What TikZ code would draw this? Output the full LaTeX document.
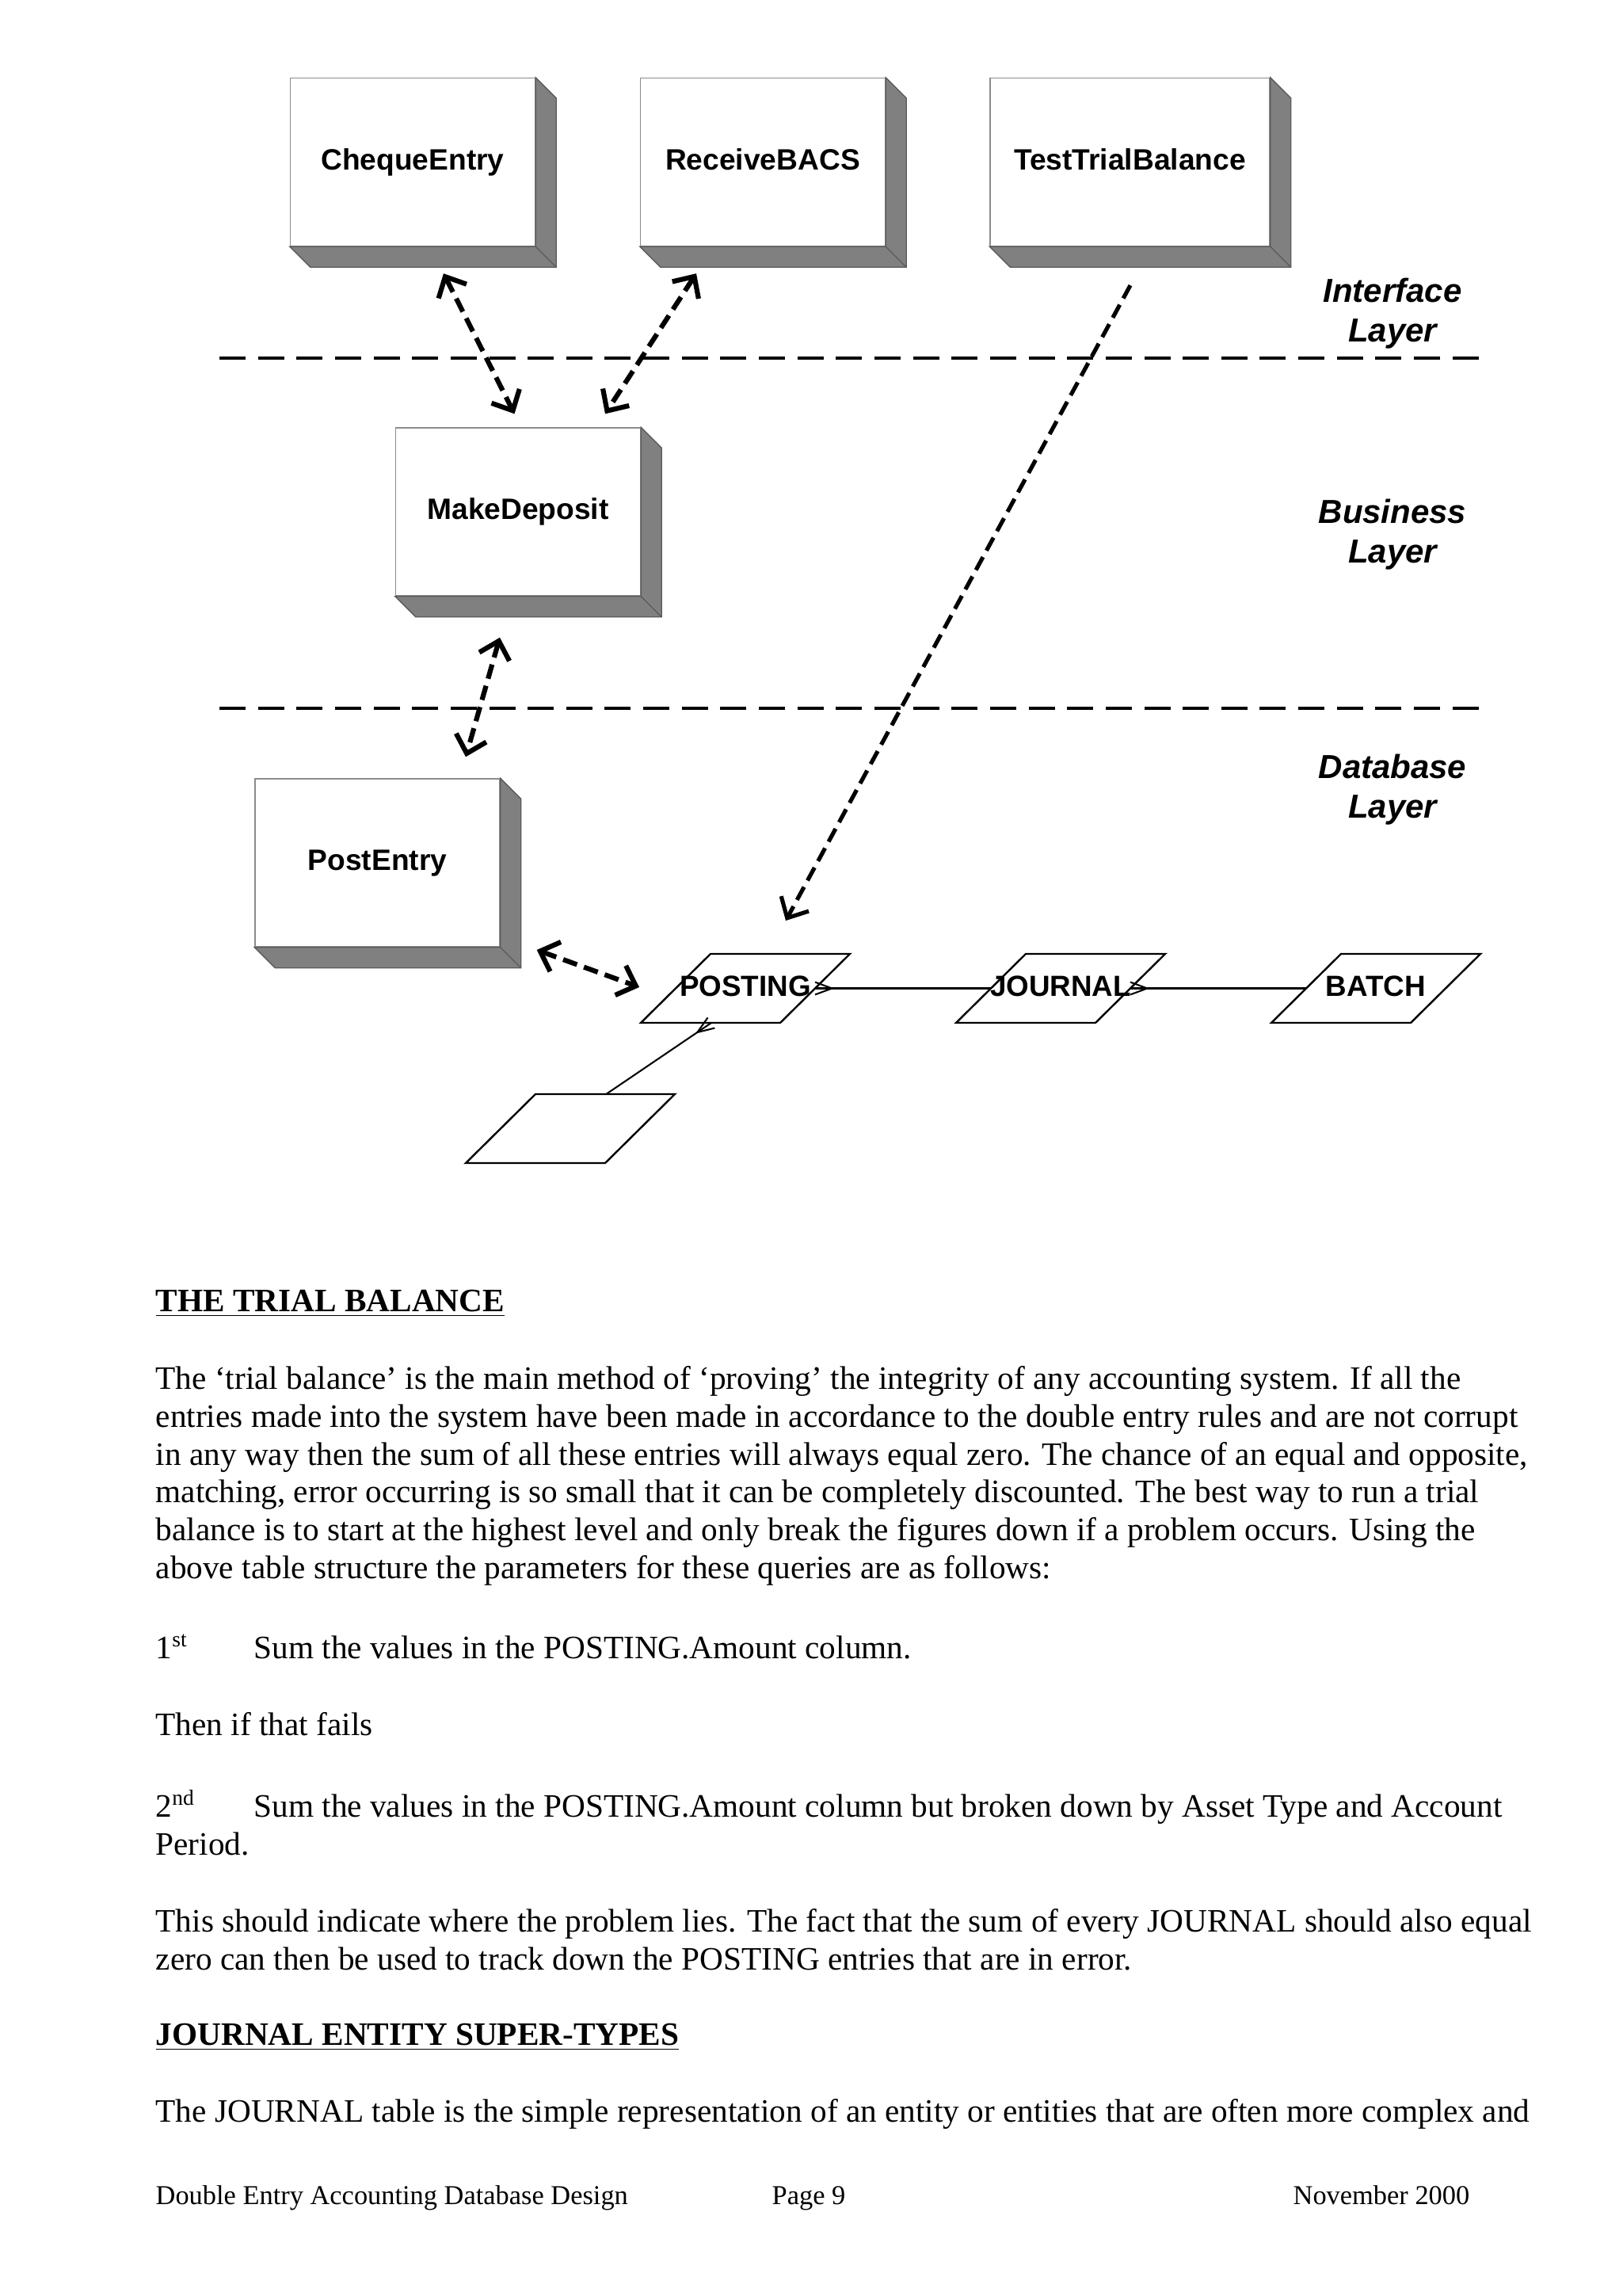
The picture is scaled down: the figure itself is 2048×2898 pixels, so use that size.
\documentclass[tikz,border=0pt]{standalone}
\usepackage{fontspec}
\setmainfont{Liberation Serif}
\newfontfamily\arialfont{Liberation Sans}
\usetikzlibrary{arrows.meta,calc}
\definecolor{shadegray}{RGB}{128,128,128}
\definecolor{edgegray}{RGB}{90,90,90}
\definecolor{facegray}{RGB}{140,140,140}

\newcommand\boxshade[1]{%
  \filldraw[boxshade] (#1.north east) -- ++(26,26) -- ([shift={(26,26)}]#1.south east)
    -- ([shift={(26,26)}]#1.south west) -- (#1.south west) -- (#1.south east) -- cycle;
  \draw[shadeedge] (#1.south east) -- ++(26,26);}

\newcommand\entity[4]{%
  \draw[entityedge] ({#2-44},{#3-43.5}) -- ({#2+132},{#3-43.5}) -- ({#2+44},{#3+43.5}) -- ({#2-132},{#3+43.5}) -- cycle;
  \node[entitytext] (#1) at (#2,#3) {#4};
  \coordinate (#1-r) at ({#2+88},#3);
  \coordinate (#1-l) at ({#2-88},#3);}

% relationship line from #2 (one end) to #1 (many end), crow's foot at #1
\newcommand\crowfoot[2]{%
  \draw[rel] (#2) -- (#1);
  \draw[rel] ($(#1)!2.3pt!90:(#2)$) -- ($(#1)!6.2pt!(#2)$) -- ($(#1)!2.3pt!-90:(#2)$);}

\begin{document}
\begin{tikzpicture}[x=0.29067pt, y=-0.29067pt,
  comp/.style={rectangle, draw=facegray, line width=0.4pt, fill=white, inner sep=0pt,
    minimum width=309*0.29067pt, minimum height=212*0.29067pt,
    font=\arialfont\bfseries\fontsize{10.8}{13}\selectfont, text height=7.9pt, text depth=2.3pt},
  boxshade/.style={fill=shadegray, draw=edgegray, line width=0.4pt},
  shadeedge/.style={draw=edgegray, line width=0.4pt},
  layer/.style={font=\arialfont\bfseries\itshape\fontsize{12.2}{14.5}\selectfont, align=center, inner sep=0pt},
  sepline/.style={line width=1pt, dash pattern=on 9.59pt off 4.55pt},
  bidir/.style={line width=1.8pt, dash pattern=on 5.4pt off 2.7pt,
    {Straight Barb[length=6pt,width=11.5pt]}-{Straight Barb[length=6pt,width=11.5pt]}},
  onedir/.style={line width=1.5pt, dash pattern=on 5.4pt off 2.7pt,
    -{Straight Barb[length=6pt,width=11.5pt]}},
  entityedge/.style={line width=0.7pt},
  entitytext/.style={inner sep=0pt, font=\arialfont\bfseries\fontsize{10.7}{13}\selectfont, text height=7.8pt, text depth=2.2pt},
  rel/.style={line width=0.6pt},
  textline/.style={anchor=base west, inner sep=0pt, font=\fontsize{12}{13.9}\selectfont},
  footline/.style={anchor=base west, inner sep=0pt, font=\fontsize{10}{11.5}\selectfont}
]
\path[use as bounding box] (0,0) rectangle (2048,2898);

% layer separators
\coordinate (sepA-w) at (277,452);
\coordinate (sepA-e) at (1867,452);
\coordinate (sepB-w) at (277,894);
\coordinate (sepB-e) at (1867,894);
\draw[sepline] (sepA-w) -- (sepA-e);
\draw[sepline] (sepB-w) -- (sepB-e);

% layer labels
\node[layer] (lyrI) at (1758,396) {Interface\\Layer};
\node[layer] (lyrB) at (1758,675) {Business\\Layer};
\node[layer] (lyrD) at (1758,997) {Database\\Layer};

% components
\node[comp] (cheque) at (521,204.5) {ChequeEntry};
\node[comp] (receive) at (963,204.5) {ReceiveBACS};
\node[comp, minimum width=353*0.29067pt] (test) at (1426.5,204.5) {TestTrialBalance};
\node[comp] (make) at (654,646) {MakeDeposit};
\node[comp] (post) at (476.5,1089) {PostEntry};
\boxshade{cheque}
\boxshade{receive}
\boxshade{test}
\boxshade{make}
\boxshade{post}

% entities
\entity{posting}{941}{1247.5}{POSTING}
\entity{journal}{1339}{1247.5}{JOURNAL}
\entity{batch}{1737}{1247.5}{BATCH}
\entity{sub}{720}{1424.5}{}
\coordinate (posting-b) at ([shift={(-43,43.5)}]posting.center);
\coordinate (sub-t) at ([shift={(46,-44)}]sub.center);

% relationships
\crowfoot{posting-r}{journal-l}
\crowfoot{journal-r}{batch-l}
\crowfoot{posting-b}{sub-t}

% dependency arrows
\draw[bidir] ([shift={(39,34)}]cheque.south) -- ([shift={(-4.5,-17)}]make.north);
\draw[bidir] ([shift={(-84,34)}]receive.south) -- ([shift={(110,-17)}]make.north);
\draw[bidir] ([shift={(-23,52)}]make.south) -- ([shift={(111.5,-27)}]post.north);
\draw[onedir] ([shift={(0.5,49)}]test.south) -- ([shift={(51,-85.5)}]posting.center);
\draw[bidir] ([shift={(46,110)}]post.east) -- ([shift={(-134,-1.5)}]posting.center);

% body text
\node[textline] (h1) at (196,1655) {\textbf{\underline{THE TRIAL BALANCE}}};
\node[textline] (p1a) at (196,1753) {The ‘trial balance’ is the main method of ‘proving’ the integrity of any accounting system. If all the};
\node[textline] (p1b) at (196,1801) {entries made into the system have been made in accordance to the double entry rules and are not corrupt};
\node[textline] (p1c) at (196,1849) {in any way then the sum of all these entries will always equal zero. The chance of an equal and opposite,};
\node[textline] (p1d) at (196,1896) {matching, error occurring is so small that it can be completely discounted. The best way to run a trial};
\node[textline] (p1e) at (196,1944) {balance is to start at the highest level and only break the figures down if a problem occurs. Using the};
\node[textline] (p1f) at (196,1992) {above table structure the parameters for these queries are as follows:};
\node[textline] (s1) at (196,2093) {\makebox[36pt][l]{1\textsuperscript{st}}Sum the values in the POSTING.Amount column.};
\node[textline] (t1) at (196,2190) {Then if that fails};
\node[textline] (s2a) at (196,2293) {\makebox[36pt][l]{2\textsuperscript{nd}}Sum the values in the POSTING.Amount column but broken down by Asset Type and Account};
\node[textline] (s2b) at (196,2341) {Period.};
\node[textline] (p2a) at (196,2438) {This should indicate where the problem lies. The fact that the sum of every JOURNAL should also equal};
\node[textline] (p2b) at (196,2486) {zero can then be used to track down the POSTING entries that are in error.};
\node[textline] (h2) at (196,2581) {\textbf{\underline{JOURNAL ENTITY SUPER-TYPES}}};
\node[textline] (p3a) at (196,2678) {The JOURNAL table is the simple representation of an entity or entities that are often more complex and};

% footer
\node[footline] (f1) at (196,2782) {Double Entry Accounting Database Design};
\node[footline] (f2) at (974,2782) {Page 9};
\node[footline] (f3) at (1632,2782) {November 2000};
\end{tikzpicture}
\end{document}
